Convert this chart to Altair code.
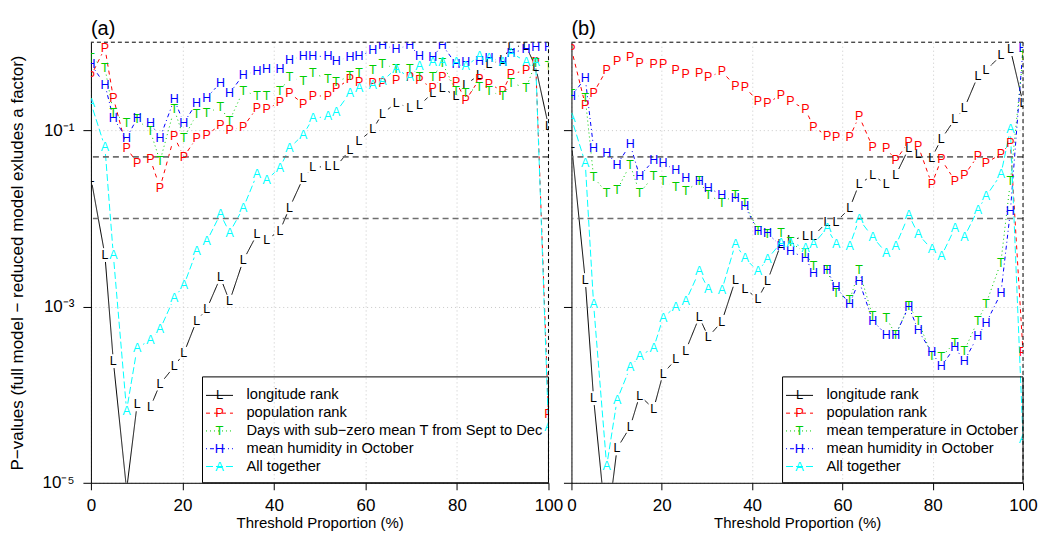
import altair as alt
import pandas as pd
import numpy as np

FONT = "Liberation Sans"

# Threshold proportions (%) shared by both panels
X = [0, 3.06, 4.9, 7.8, 10.1, 13.0, 15.1, 18.2, 20.3, 23.1, 25.3, 28.3, 30.3, 33.3,
     36.3, 38.4, 41.3, 43.4, 46.4, 48.5, 51.8, 53.6, 56.6, 58.6, 61.6, 63.7, 66.7,
     69.7, 71.8, 74.7, 76.8, 79.8, 81.9, 84.9, 87.0, 90.0, 91.8, 95.1, 97.2, 100]

# log10 of the P-values, panel (a)
A_L = [-1.54, -2.415, -3.62, -5.08, -4.11, -4.14, -3.88, -3.68, -3.53, -3.16, -3.03, -2.67,
       -2.94, -2.475, -2.18, -2.24, -2.14, -1.88, -1.54, -1.42, -1.41, -1.41, -1.22, -1.12,
       -0.99, -0.81, -0.69, -0.745, -0.715, -0.575, -0.52, -0.61, -0.48, -0.37, -0.25, -0.20,
       -0.045, -0.045, -0.28, -0.95]
A_P = [-0.385, -0.065, -0.63, -1.20, -1.37, -1.33, -1.65, -1.07, -1.30, -1.085, -1.05, -0.94,
       -1.0, -0.96, -0.745, -0.76, -0.68, -0.575, -0.70, -0.61, -0.61, -0.52, -0.42, -0.45,
       -0.46, -0.46, -0.43, -0.40, -0.43, -0.52, -0.40, -0.45, -0.66, -0.42, -0.47, -0.555,
       -0.36, -0.32, -0.22, -4.22]
A_T = [-0.18, -0.29, -0.80, -0.915, -0.875, -1.01, -1.35, -0.76, -1.085, -0.82, -0.80, -0.74,
       -0.89, -0.55, -0.61, -0.61, -0.555, -0.40, -0.44, -0.35, -0.42, -0.45, -0.385, -0.35,
       -0.32, -0.245, -0.30, -0.30, -0.40, -0.40, -0.235, -0.555, -0.575, -0.51, -0.555, -0.61,
       -0.46, -0.52, -0.235, -0.27]
A_H = [-0.25, -0.48, -0.865, -1.085, -0.865, -0.915, -1.085, -0.65, -0.915, -0.69, -0.63, -0.46,
       -0.58, -0.37, -0.33, -0.30, -0.30, -0.20, -0.16, -0.16, -0.16, -0.21, -0.17, -0.16,
       -0.09, -0.03, -0.08, -0.03, -0.16, -0.17, -0.03, -0.25, -0.22, -0.21, -0.18, -0.22,
       -0.12, -0.08, -0.06, -0.06]
A_A = [-0.69, -1.19, -2.415, -4.18, -3.47, -3.38, -3.26, -2.90, -2.76, -2.37, -2.26, -1.95,
       -2.16, -1.88, -1.50, -1.56, -1.425, -1.20, -1.05, -0.865, -0.84, -0.79, -0.575, -0.52,
       -0.48, -0.44, -0.30, -0.40, -0.27, -0.22, -0.22, -0.22, -0.27, -0.16, -0.18, -0.22,
       -0.12, -0.22, -0.22, -4.37]

# log10 of the P-values, panel (b)
B_L = [-1.15, -2.70, -4.04, -5.55, -4.61, -4.365, -4.01, -4.16, -3.76, -3.60, -3.50, -3.12,
       -3.345, -3.17, -2.70, -2.80, -2.91, -2.71, -2.29, -2.25, -2.20, -2.20, -2.04, -2.04,
       -1.885, -1.61, -1.51, -1.61, -1.51, -1.205, -1.27, -1.31, -1.10, -0.875, -0.75, -0.385,
       -0.32, -0.15, -0.08, -0.69]
B_P = [-0.08, -0.71, -0.575, -0.31, -0.21, -0.17, -0.235, -0.25, -0.25, -0.32, -0.36, -0.35,
       -0.40, -0.33, -0.50, -0.51, -0.67, -0.69, -0.60, -0.67, -0.76, -0.96, -1.065, -1.08,
       -1.08, -0.84, -1.19, -1.20, -1.34, -1.13, -1.18, -1.61, -1.33, -1.57, -1.51, -1.29,
       -1.37, -1.27, -1.14, -3.52]
B_T = [-0.59, -0.63, -1.53, -1.71, -1.68, -1.39, -1.71, -1.52, -1.575, -1.645, -1.69, -1.58,
       -1.73, -1.82, -1.735, -1.82, -2.14, -2.18, -2.17, -2.27, -2.39, -2.54, -2.58, -2.85,
       -2.93, -2.59, -3.11, -3.125, -3.32, -2.99, -3.16, -3.56, -3.57, -3.41, -3.50, -3.16,
       -2.97, -2.50, -1.58, -0.16]
B_H = [-0.61, -0.41, -1.20, -1.255, -1.39, -1.16, -1.52, -1.34, -1.37, -1.455, -1.54, -1.57,
       -1.65, -1.735, -1.77, -1.86, -2.14, -2.17, -2.31, -2.37, -2.45, -2.615, -2.59, -2.78,
       -2.97, -2.71, -3.16, -3.32, -3.32, -3.00, -3.27, -3.52, -3.68, -3.46, -3.62, -3.33,
       -3.19, -2.85, -1.92, -0.065]
B_A = [-0.865, -1.37, -2.97, -4.81, -4.06, -3.69, -3.56, -3.47, -3.125, -3.00, -2.94, -2.60,
       -2.80, -2.815, -2.29, -2.45, -2.60, -2.46, -2.275, -2.275, -2.33, -2.29, -2.11, -2.29,
       -2.31, -2.01, -2.21, -2.39, -2.31, -1.96, -2.18, -2.35, -2.43, -2.11, -2.21, -1.90,
       -1.75, -1.50, -0.99, -4.5]

SERIES = ["L", "P", "T", "H", "A"]
COLORS = ["#000000", "#FF0000", "#00CD00", "#0000FF", "#00FFFF"]
DASHES = [[1, 0], [4, 4], [1, 3], [1, 3, 4, 3], [7, 3]]

LEGEND_A = ["longitude rank", "population rank",
            "Days with sub\u2212zero mean T from Sept to Dec",
            "mean humidity in October", "All together"]
LEGEND_B = ["longitude rank", "population rank", "mean temperature in October",
            "mean humidity in October", "All together"]

THRESHOLDS = [0.05, 0.01]
YTITLE = "P\u2212values (full model \u2212 reduced model exludes a factor)"
XTITLE = "Threshold Proportion (%)"

H = 441
GAP = 7.0

color_scale = alt.Scale(domain=SERIES, range=COLORS)
dash_scale = alt.Scale(domain=SERIES, range=DASHES)
yscale = alt.Scale(type="log", domain=[1e-5, 1], nice=False)
xscale = alt.Scale(domain=[0, 100], nice=False, zero=False)


def panel(logs, labels, title, W, first):
    sx = W / 100.0
    sy = H / 5.0
    pts, segs = [], []
    for s, arr in zip(SERIES, logs):
        for x, lv in zip(X, arr):
            pts.append({"x": x, "p": 10 ** lv, "series": s})
        for i in range(len(X) - 1):
            x0, x1, y0, y1 = X[i], X[i + 1], arr[i], arr[i + 1]
            L = float(np.hypot((x1 - x0) * sx, (y1 - y0) * sy))
            if L <= 2 * GAP:
                continue
            t0, t1 = GAP / L, 1 - GAP / L
            segs.append({"x": x0 + t0 * (x1 - x0), "x2": x0 + t1 * (x1 - x0),
                         "p": 10 ** (y0 + t0 * (y1 - y0)), "p2": 10 ** (y0 + t1 * (y1 - y0)),
                         "series": s})
    pts = pd.DataFrame(pts)
    segs = pd.DataFrame(segs)

    xaxis = alt.Axis(values=[0, 20, 40, 60, 80, 100], title=XTITLE, titleFontSize=15,
                     titleFontWeight="normal", titleFont=FONT, titleColor="black",
                     labelFontSize=17, labelFont=FONT, labelColor="black", labelPadding=8,
                     tickSize=7, tickColor="black", domainColor="black", titlePadding=2,
                     grid=True, gridDash=[1, 3], gridColor="#c8c8c8", labelFlush=False,
                     labelOverlap=False)
    if first:
        yaxis = alt.Axis(values=[1e-5, 1e-3, 1e-1],
                         labelExpr="datum.value > 0.01 ? '10\u207b\u00b9' : (datum.value > 0.0001 ? '10\u207b\u00b3' : '10\u207b\u2075')",
                         title=YTITLE, titleFontSize=17, titleFontWeight="normal", titleFont=FONT,
                         titleColor="black", labelFontSize=17, labelFont=FONT, labelColor="black",
                         tickSize=8, tickColor="black", domainColor="black", labelPadding=9,
                         titlePadding=16, grid=True, gridDash=[1, 3], gridColor="#c8c8c8",
                         labelFlush=False)
    else:
        yaxis = alt.Axis(values=[1e-5, 1e-3, 1e-1], labels=False, title=None, tickSize=8,
                         tickColor="black", domainColor="black", grid=True, gridDash=[1, 3],
                         gridColor="#c8c8c8")

    def X_(f="x"):
        return alt.X(f + ":Q", scale=xscale, axis=xaxis)

    def Y_(f="p"):
        return alt.Y(f + ":Q", scale=yscale, axis=yaxis)

    layers = []
    layers.append(alt.Chart(segs).mark_rule(strokeWidth=1, clip=True).encode(
        x=X_(), x2="x2:Q", y=Y_(), y2="p2:Q",
        color=alt.Color("series:N", scale=color_scale, legend=None),
        strokeDash=alt.StrokeDash("series:N", scale=dash_scale, legend=None),
    ))
    thr = pd.DataFrame({"p": THRESHOLDS})
    layers.append(alt.Chart(thr).mark_rule(color="#6e6e6e", strokeWidth=1.6,
                                            strokeDash=[6, 4]).encode(y=Y_()))
    top = pd.DataFrame({"p": [1.0]})
    layers.append(alt.Chart(top).mark_rule(color="black", strokeWidth=1,
                                            strokeDash=[4, 3]).encode(y=Y_()))
    right = pd.DataFrame({"x": [100.0]})
    layers.append(alt.Chart(right).mark_rule(color="black", strokeWidth=1,
                                              strokeDash=[4, 3]).encode(x=X_()))
    layers.append(alt.Chart(pts).mark_text(font=FONT, fontSize=12.5, clip=True,
                                            baseline="middle", align="center").encode(
        x=X_(), y=Y_(), text="series:N",
        color=alt.Color("series:N", scale=color_scale, legend=None),
    ))

    # legend box (pixel layout inside the panel)
    box_left = W - 346.3 if first else W - 240.7
    one = pd.DataFrame({"k": [0]})
    layers.append(alt.Chart(one).mark_rect(fill=None, stroke="black", strokeWidth=1).encode(
        x=alt.value(box_left), x2=alt.value(W), y=alt.value(335), y2=alt.value(H)))
    for i, (s, c, d, lab) in enumerate(zip(SERIES, COLORS, DASHES, labels)):
        yy = 353.5 + i * 17.8
        layers.append(alt.Chart(one).mark_rule(color=c, strokeDash=d, strokeWidth=1).encode(
            x=alt.value(box_left + 3.5), x2=alt.value(box_left + 30.5), y=alt.value(yy)))
        layers.append(alt.Chart(one).mark_text(font=FONT, fontSize=13, color=c,
                                                baseline="middle", align="center").encode(
            x=alt.value(box_left + 17), y=alt.value(yy), text=alt.value(s)))
        layers.append(alt.Chart(one).mark_text(font=FONT, fontSize=14.7, color="black",
                                                baseline="middle", align="left").encode(
            x=alt.value(box_left + 44), y=alt.value(yy), text=alt.value(lab)))

    return alt.layer(*layers).properties(
        width=W, height=H,
        title=alt.TitleParams(text=title, anchor="start", frame="group", fontSize=20,
                              fontWeight="normal", font=FONT, color="black", offset=3),
    )


pa = panel([A_L, A_P, A_T, A_H, A_A], LEGEND_A, "(a)", 458, True)
pb = panel([B_L, B_P, B_T, B_H, B_A], LEGEND_B, "(b)", 452, False)

chart = alt.hconcat(pa, pb, spacing=23, bounds="flush").properties(
    padding={"left": 8, "top": 18, "right": 2, "bottom": 2},
    background="white",
).configure_view(stroke=None)

chart.save("out.html", embed_options={"renderer": "svg", "actions": False})
